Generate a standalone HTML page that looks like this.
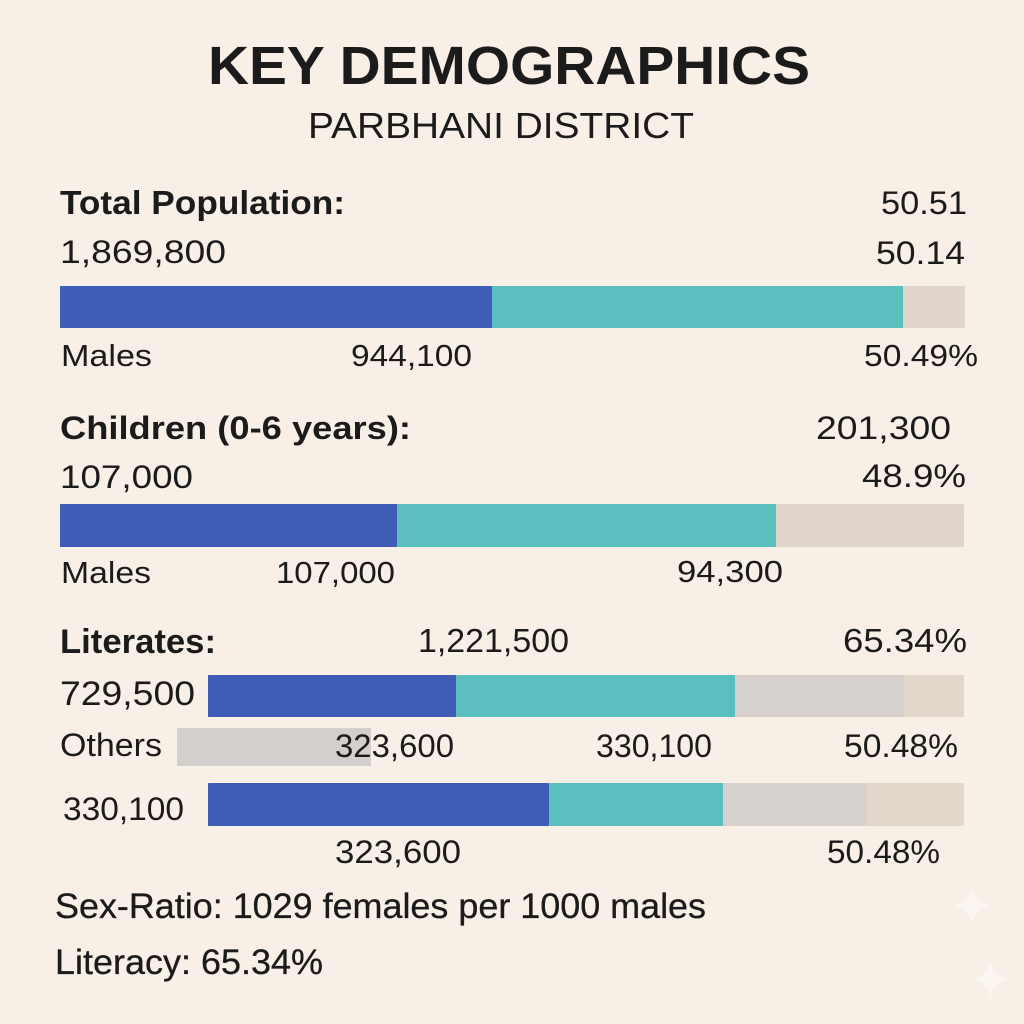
<!DOCTYPE html>
<html>
<head>
<meta charset="utf-8">
<style>
  html,body{margin:0;padding:0;background:#f8efe7;}
  svg{display:block;}
  text{font-family:"Liberation Sans",Arial,sans-serif;fill:#1b1b1b;}
  .b{font-weight:bold;}
  .m{stroke:#1b1b1b;stroke-width:0.3;}
</style>
</head>
<body>
<svg width="1024" height="1024" viewBox="0 0 1024 1024" xmlns="http://www.w3.org/2000/svg">
  <rect x="0" y="0" width="1024" height="1024" fill="#f8efe7"/>

  <!-- Title -->
  <text class="b" x="208" y="84" font-size="54" textLength="602" lengthAdjust="spacingAndGlyphs">KEY DEMOGRAPHICS</text>
  <text x="308" y="138" font-size="36" textLength="386" lengthAdjust="spacingAndGlyphs">PARBHANI DISTRICT</text>

  <!-- Total population -->
  <text class="b" x="60" y="214" font-size="33" textLength="285" lengthAdjust="spacingAndGlyphs">Total Population:</text>
  <text x="881" y="214" font-size="32" textLength="86" lengthAdjust="spacingAndGlyphs">50.51</text>
  <text x="60" y="263" font-size="32" textLength="166" lengthAdjust="spacingAndGlyphs">1,869,800</text>
  <text x="876" y="264" font-size="32" textLength="89" lengthAdjust="spacingAndGlyphs">50.14</text>

  <rect x="60" y="286" width="905" height="42" fill="#e0d5cc" rx="1.5"/>
  <rect x="60" y="286" width="843" height="42" fill="#5cbfbf"/>
  <rect x="60" y="286" width="432" height="42" fill="#3f5db6" rx="1.5"/>

  <text x="61" y="366" font-size="31" textLength="91" lengthAdjust="spacingAndGlyphs">Males</text>
  <text x="351" y="366" font-size="31" textLength="121" lengthAdjust="spacingAndGlyphs">944,100</text>
  <text x="864" y="366" font-size="31" textLength="114" lengthAdjust="spacingAndGlyphs">50.49%</text>

  <!-- Children -->
  <text class="b" x="60" y="439" font-size="32" textLength="351" lengthAdjust="spacingAndGlyphs">Children (0-6 years):</text>
  <text x="816" y="439" font-size="32" textLength="135" lengthAdjust="spacingAndGlyphs">201,300</text>
  <text x="60" y="488" font-size="32" textLength="133" lengthAdjust="spacingAndGlyphs">107,000</text>
  <text x="862" y="487" font-size="32" textLength="104" lengthAdjust="spacingAndGlyphs">48.9%</text>

  <rect x="60" y="504" width="904" height="43" fill="#e0d5cc" rx="1.5"/>
  <rect x="60" y="504" width="716" height="43" fill="#5cbfbf"/>
  <rect x="60" y="504" width="337" height="43" fill="#3f5db6" rx="1.5"/>

  <text x="61" y="583" font-size="31" textLength="90" lengthAdjust="spacingAndGlyphs">Males</text>
  <text x="276" y="583" font-size="31" textLength="119" lengthAdjust="spacingAndGlyphs">107,000</text>
  <text x="677" y="582" font-size="31" textLength="106" lengthAdjust="spacingAndGlyphs">94,300</text>

  <!-- Literates -->
  <text class="b" x="60" y="653" font-size="34" textLength="156" lengthAdjust="spacingAndGlyphs">Literates:</text>
  <text x="418" y="652" font-size="33" textLength="151" lengthAdjust="spacingAndGlyphs">1,221,500</text>
  <text x="843" y="652" font-size="33" textLength="124" lengthAdjust="spacingAndGlyphs">65.34%</text>

  <text x="60" y="705" font-size="34" textLength="135" lengthAdjust="spacingAndGlyphs">729,500</text>
  <rect x="208" y="675" width="756" height="42" fill="#e3d6cb" rx="1.5"/>
  <rect x="208" y="675" width="696" height="42" fill="#d7d1cd"/>
  <rect x="208" y="675" width="527" height="42" fill="#5cbfbf"/>
  <rect x="208" y="675" width="248" height="42" fill="#3f5db6" rx="1.5"/>

  <text x="60" y="756" font-size="32" textLength="102" lengthAdjust="spacingAndGlyphs">Others</text>
  <rect x="177" y="728" width="194" height="38" fill="#d3cfcc"/>
  <text x="335" y="757" font-size="32" textLength="119" lengthAdjust="spacingAndGlyphs">323,600</text>
  <text x="596" y="757" font-size="32" textLength="116" lengthAdjust="spacingAndGlyphs">330,100</text>
  <text x="844" y="757" font-size="32" textLength="114" lengthAdjust="spacingAndGlyphs">50.48%</text>

  <text x="63" y="820" font-size="32" textLength="121" lengthAdjust="spacingAndGlyphs">330,100</text>
  <rect x="208" y="783" width="756" height="43" fill="#e3d6cb" rx="1.5"/>
  <rect x="208" y="783" width="658" height="43" fill="#d7d1cd"/>
  <rect x="208" y="783" width="515" height="43" fill="#5cbfbf"/>
  <rect x="208" y="783" width="341" height="43" fill="#3f5db6" rx="1.5"/>

  <text x="335" y="863" font-size="32" textLength="126" lengthAdjust="spacingAndGlyphs">323,600</text>
  <text x="827" y="863" font-size="32" textLength="113" lengthAdjust="spacingAndGlyphs">50.48%</text>

  <!-- Footer -->
  <text class="m" x="55" y="918" font-size="35" textLength="651" lengthAdjust="spacingAndGlyphs">Sex-Ratio: 1029 females per 1000 males</text>
  <text class="m" x="55" y="974" font-size="35" textLength="268" lengthAdjust="spacingAndGlyphs">Literacy: 65.34%</text>

  <!-- faint sparkles -->
  <path d="M972 888 Q975 903 990 906 Q975 909 972 924 Q969 909 954 906 Q969 903 972 888 Z" fill="#fbf7f3" opacity="0.85"/>
  <path d="M990 960 Q993 976 1008 979 Q993 982 990 998 Q987 982 972 979 Q987 976 990 960 Z" fill="#fbf7f3" opacity="0.85"/>
</svg>
</body>
</html>
